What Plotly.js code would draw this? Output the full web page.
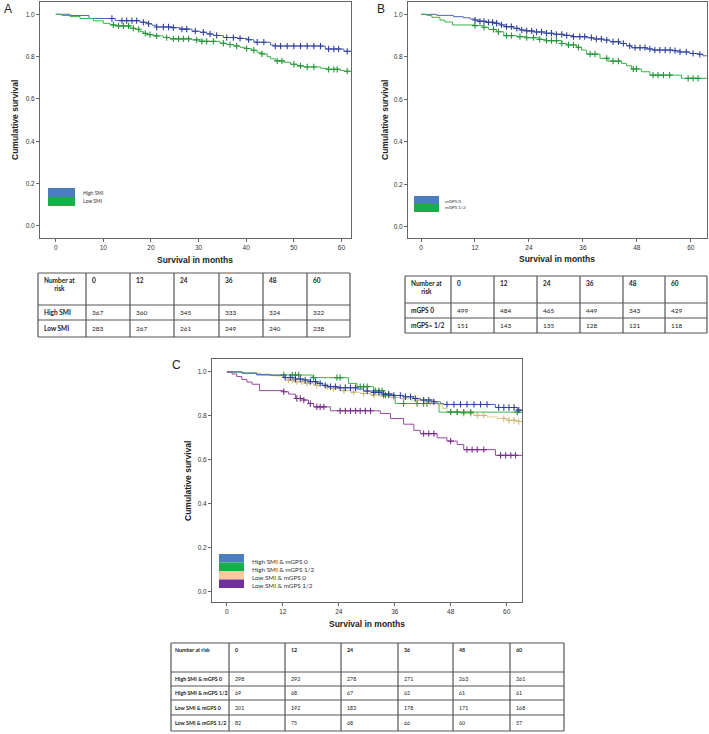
<!DOCTYPE html>
<html><head><meta charset="utf-8">
<script src="https://cdn.plot.ly/plotly-3.0.1.min.js"></script>
<style>html,body{margin:0;padding:0;background:#fff}#chart{width:709px;height:734px}</style>
</head><body><div id="chart"></div>
<script>
// ---------- DATA ----------
// Panel A: step times (months) and survival
const aHighT = [0,3,7,12.5,17.7,19.3,20.2,21.2,24.5,26.1,28.6,30.3,31.7,33.1,35.2,38.1,40.2,41.6,45.1,45.8,56.6,60.5];
const aHighS = [1.0,0.994,0.98,0.97,0.962,0.955,0.948,0.94,0.937,0.93,0.92,0.915,0.907,0.90,0.89,0.886,0.88,0.868,0.855,0.85,0.836,0.825];
const aHighCens = [11.8,13.9,14.9,16.0,17.0,18.4,19.5,21.2,22.6,23.7,24.7,26.5,27.5,29.3,31.0,32.4,33.8,35.9,37.3,38.7,40.5,42.3,43.7,46.1,47.2,48.6,50.0,51.4,52.8,54.2,55.6,57.3,58.4,59.4,61.2];
const aLowT = [0,1.3,3.0,5.1,7.9,10.0,11.4,12.5,15.6,16.7,17.7,18.4,19.1,20.5,22.6,24.0,28.6,30.7,34.5,35.9,37.3,38.7,39.8,41.1,42.3,43.3,44.4,45.1,46.1,47.9,49.3,50.7,52.1,55.6,57.0,59.8,60.5];
const aLowS = [1,0.994,0.989,0.98,0.969,0.957,0.95,0.945,0.934,0.929,0.918,0.91,0.904,0.898,0.89,0.884,0.879,0.872,0.863,0.857,0.85,0.844,0.838,0.83,0.82,0.813,0.80,0.79,0.78,0.773,0.764,0.756,0.751,0.745,0.74,0.734,0.731];
const aLowCens = [12.1,13.2,14.2,15.3,16.3,17.4,18.8,19.8,21.2,23.3,24.7,25.8,26.8,27.9,29.6,30.7,31.7,33.1,35.2,36.6,38.0,40.1,41.6,43.3,46.5,47.5,50.0,51.4,52.8,54.2,57.3,58.4,59.1,61.2];

// Panel B
const bG0T = [0,3.5,7.2,9.4,10.9,12.0,13.1,14.6,16.1,17.6,19.0,20.5,22.0,23.5,25.0,27.9,29.4,31.6,33.9,36.8,38.3,40.5,42.0,44.2,45.7,46.8,50.1,51.6,56.1,57.6,59.8,61.6,62.7];
const bG0S = [1,0.995,0.989,0.984,0.978,0.973,0.967,0.962,0.958,0.95,0.942,0.934,0.926,0.922,0.917,0.911,0.906,0.901,0.895,0.89,0.884,0.879,0.871,0.863,0.852,0.843,0.837,0.832,0.829,0.823,0.816,0.812,0.805];
const bG0Cens = [12.0,13.1,14.0,15.0,15.9,16.8,17.9,19.0,20.1,21.3,22.4,23.5,24.6,25.7,26.8,27.9,29.0,30.1,31.3,32.4,33.9,35.3,36.4,37.9,39.0,40.1,41.3,42.7,43.9,45.0,46.4,47.6,48.7,49.8,50.9,52.0,53.1,54.3,55.4,56.5,57.6,59.0,60.5,62.0];
const bG12T = [0,1.3,2.4,4.2,5.3,7.0,12.0,13.9,15.0,16.8,18.4,21.3,23.5,26.4,27.9,31.3,32.4,34.6,35.7,36.8,39.8,41.6,44.6,45.7,46.8,49.0,50.9,57.9];
const bG12S = [1,0.995,0.986,0.973,0.964,0.95,0.947,0.939,0.929,0.918,0.90,0.895,0.89,0.882,0.876,0.863,0.856,0.845,0.832,0.813,0.793,0.78,0.769,0.758,0.743,0.73,0.714,0.699];
const bG12Cens = [12.0,14.0,16.1,17.2,19.0,20.1,22.0,23.5,25.0,26.4,27.9,29.0,30.1,31.3,32.8,33.9,35.0,37.6,38.7,41.3,42.7,43.9,47.2,47.9,51.6,52.7,53.9,55.3,59.4,60.5,61.6];

// Panel C
const cHG0T = [0,3.2,6.4,9.3,12.2,14.7,16.5,17.9,19.3,20.4,21.5,23.6,27.9,29.3,31.5,33.6,35.8,37.9,40.1,41.5,44.4,45.8,46.5,57.6,62.3];
const cHG0S = [1,0.995,0.989,0.985,0.975,0.968,0.963,0.956,0.948,0.939,0.933,0.928,0.922,0.913,0.907,0.899,0.893,0.887,0.879,0.872,0.864,0.856,0.852,0.838,0.826];
const cHG0Cens = [12.5,13.6,14.7,15.75,16.8,17.9,19.0,20.0,21.1,22.2,23.3,24.3,25.4,26.5,27.6,30.1,31.5,32.6,33.6,34.7,35.8,37.2,38.3,39.4,40.4,42.2,43.3,44.4,47.2,48.7,50.1,51.5,53.0,54.4,55.8,58.3,59.4,60.5,61.6,62.6];
const cHG12T = [0,3.2,6.4,18.3,26.1,27.9,31.5,33.6,36.1,45.5];
const cHG12S = [1,0.994,0.986,0.974,0.948,0.933,0.915,0.895,0.856,0.817];
const cHG12Cens = [12.2,14.0,14.7,15.4,18.6,23.6,24.3,28.6,29.3,30.1,31.9,32.6,33.3,34.0,34.7,37.9,40.8,42.2,42.9,48.0,49.4,50.8,52.3,62.3];
const cLG0T = [0,3.6,7.2,10.0,12.2,12.9,14.3,16.5,18.6,20.8,22.2,24.3,26.5,28.6,30.8,32.9,35.1,37.2,39.4,42.2,45.1,46.2,47.2,50.1,53.0,55.8,58.0,60.1,62.3];
const cLG0S = [1,0.994,0.986,0.982,0.976,0.963,0.956,0.948,0.939,0.933,0.924,0.915,0.908,0.902,0.895,0.89,0.884,0.878,0.872,0.864,0.853,0.834,0.818,0.811,0.802,0.795,0.788,0.78,0.774];
const cLG0Cens = [13.2,14.0,15.0,16.1,17.2,19.3,21.5,22.9,25.1,27.2,29.3,31.5,33.6,35.8,37.9,40.8,43.7,48.0,49.4,50.8,52.3,53.7,55.1,59.4,60.5,61.6,62.6];
const cLG12T = [0,1.1,2.1,3.2,4.3,5.4,7.0,12.2,13.2,14.7,16.5,17.5,18.6,22.2,32.9,35.1,37.9,40.1,41.5,45.1,47.2,49.4,50.8,57.6];
const cLG12S = [1,0.991,0.979,0.966,0.954,0.944,0.915,0.91,0.899,0.879,0.872,0.856,0.841,0.823,0.811,0.788,0.762,0.734,0.719,0.70,0.685,0.669,0.646,0.62];
const cLG12Cens = [12.2,15.0,15.75,16.5,17.9,19.3,20.0,20.8,24.3,25.4,26.5,27.6,28.6,29.7,30.8,42.2,43.3,44.4,48.0,51.5,52.6,53.7,55.1,58.7,59.8,60.9,61.9];

// Tick labels
const yTicks = [0,0.2,0.4,0.6,0.8,1.0];
const yTickText = ['0.0','0.2','0.4','0.6','0.8','1.0'];
const xTicksA = [0,10,20,30,40,50,60];
const xTicks12 = [0,12,24,36,48,60];

// Number-at-risk tables
const riskTimes = ['0','12','24','36','48','60'];
const aRiskHigh = [367,360,345,333,324,322];
const aRiskLow = [283,267,261,249,240,238];
const bRiskG0 = [499,484,465,449,343,429];
const bRiskG12 = [151,143,135,128,121,118];
const cRiskHG0 = [298,292,278,271,263,261];
const cRiskHG12 = [69,68,67,62,61,61];
const cRiskLG0 = [201,192,183,178,171,168];
const cRiskLG12 = [82,75,68,66,60,57];

// ---------- BUILD ----------
const W=709,H=734;
const X = v=>v/W, Y = v=>1-v/H;
function stepAt(T,S,t){let v=S[0];for(let i=0;i<T.length;i++){if(T[i]<=t)v=S[i];else break;}return v;}
function km(T,S,C,end,xa,ya,lc,mc){
  return [
    {type:'scatter',mode:'lines',x:T.concat([end]),y:S.concat([S[S.length-1]]),xaxis:xa,yaxis:ya,
     line:{shape:'hv',color:lc,width:1},hoverinfo:'skip',showlegend:false},
    {type:'scatter',mode:'markers',x:C,y:C.map(t=>stepAt(T,S,t)),xaxis:xa,yaxis:ya,
     marker:{symbol:'cross-thin',size:4.5,color:mc,line:{width:1.1,color:mc}},hoverinfo:'skip',showlegend:false}
  ];
}
const BL='#5066b4',BM='#2f3f9f',GL='#3ab54b',GM='#25953a',TL='#dccb8e',TM='#cdb676',PL='#934c9c',PM='#7a2d8c';
let data=[];
data=data.concat(km(aHighT,aHighS,aHighCens,63,'x','y',BL,BM));
data=data.concat(km(aLowT,aLowS,aLowCens,63,'x','y',GL,GM));
data=data.concat(km(bG0T,bG0S,bG0Cens,64,'x2','y2',BL,BM));
data=data.concat(km(bG12T,bG12S,bG12Cens,64,'x2','y2',GL,GM));
data=data.concat(km(cLG0T,cLG0S,cLG0Cens,64,'x3','y3',TL,TM));
data=data.concat(km(cHG12T,cHG12S,cHG12Cens,64,'x3','y3',GL,GM));
data=data.concat(km(cLG12T,cLG12S,cLG12Cens,64,'x3','y3',PL,PM));
data=data.concat(km(cHG0T,cHG0S,cHG0Cens,64,'x3','y3',BL,BM));

const tf={family:'Liberation Sans, Arial, sans-serif',size:6.5,color:'#333'};
function xa(dom,range,ticks,anchor){return {domain:dom,range:range,tickvals:ticks,ticktext:ticks.map(String),showline:true,mirror:true,linecolor:'#666',linewidth:1,ticks:'outside',ticklen:3,tickcolor:'#666',tickfont:tf,showgrid:false,zeroline:false,anchor:anchor,fixedrange:true};}
function ya(dom,range,anchor){return {domain:dom,range:range,tickvals:yTicks,ticktext:yTickText,showline:true,mirror:true,linecolor:'#666',linewidth:1,ticks:'outside',ticklen:3,tickcolor:'#666',tickfont:tf,showgrid:false,zeroline:false,anchor:anchor,fixedrange:true};}

const shapes=[], ann=[];
const TF='Lato, Liberation Sans, sans-serif';
function text(x,y,t,opt){ann.push(Object.assign({xref:'paper',yref:'paper',x:X(x),y:Y(y),text:t,showarrow:false,xanchor:'left',yanchor:'middle',font:{family:TF,size:6,color:'#222'}},opt||{}));}
function rect(x0,y0,x1,y1,c){shapes.push({type:'rect',xref:'paper',yref:'paper',x0:X(x0),x1:X(x1),y0:Y(y0),y1:Y(y1),fillcolor:c,line:{width:0},layer:'above'});}
function line(x0,y0,x1,y1){shapes.push({type:'line',xref:'paper',yref:'paper',x0:X(x0),x1:X(x1),y0:Y(y0),y1:Y(y1),line:{color:'#555',width:1.2},layer:'above'});}

function table(cols,rows,header,body,fs,headerTop,pad0){
  cols.forEach(c=>line(c,rows[0],c,rows[rows.length-1]));
  rows.forEach(r=>line(cols[0],r,cols[cols.length-1],r));
  header.forEach((h,i)=>text(cols[i]+(i===0?pad0:4),rows[0]+headerTop,'<b>'+h+'</b>',{yanchor:'top',font:{family:TF,size:fs,color:'#222'}}));
  body.forEach((row,ri)=>{
    const yc=(rows[ri+1]+rows[ri+2])/2;
    row.forEach((v,ci)=>text(cols[ci]+(ci===0?pad0:4),yc,ci===0?'<b>'+v+'</b>':String(v),{font:{family:TF,size:fs,color:'#222'}}));
  });
}
table([38,86,130,174,219,263,307,350],[273,305,320,337],['Number at<br>risk'].concat(riskTimes),
  [['High SMI'].concat(aRiskHigh),['Low SMI'].concat(aRiskLow)],6.5,2,4);
table([405,451,494,537,580,623,665,707],[276,303,318,333],['Number at<br>risk'].concat(riskTimes),
  [['mGPS 0'].concat(bRiskG0),['mGPS= 1/2'].concat(bRiskG12)],6.5,2,4);
table([171,229,285,341,398,453,510,564],[643,672,686,700,715,731],['Number at risk'].concat(riskTimes),
  [['High SMI &amp; mGPS 0'].concat(cRiskHG0),['High SMI &amp; mGPS 1/2'].concat(cRiskHG12),['Low SMI &amp; mGPS 0'].concat(cRiskLG0),['Low SMI &amp; mGPS 1/2'].concat(cRiskLG12)],5.3,2,2);

// legends
rect(48,188,75,197,'#4a7ebf'); rect(48,197,75,206,'#17ae4b');
text(81,193,'High SMI',{font:{family:TF,size:5,color:'#333'}});
text(81,201,'Low SMI',{font:{family:TF,size:5,color:'#333'}});
rect(414,196,439,204,'#4a7ebf'); rect(414,204,439,212,'#17ae4b');
text(443,201,'mGPS 0',{font:{family:TF,size:4.5,color:'#333'}});
text(443,207,'mGPS 1/2',{font:{family:TF,size:4.5,color:'#333'}});
rect(219,554,244,562.5,'#4a7ebf'); rect(219,562.5,244,571,'#17ae4b'); rect(219,571,244,579.5,'#f8c79b'); rect(219,579.5,244,588,'#7030a0');
['High SMI &amp; mGPS 0','High SMI &amp; mGPS 1/2','Low SMI &amp; mGPS 0','Low SMI &amp; mGPS 1/2'].forEach((t,i)=>text(250,[561,569,577,585.5][i],t,{font:{family:TF,size:6.3,color:'#333'}}));

// axis titles
const AT={family:'Liberation Sans, Arial, sans-serif',size:8.5,color:'#222'};
text(15,120,'<b>Cumulative survival</b>',{xanchor:'center',textangle:-90,font:AT});
text(385,120,'<b>Cumulative survival</b>',{xanchor:'center',textangle:-90,font:AT});
text(188,481,'<b>Cumulative survival</b>',{xanchor:'center',textangle:-90,font:AT});
text(195,260,'<b>Survival in months</b>',{xanchor:'center',font:AT});
text(557,259,'<b>Survival in months</b>',{xanchor:'center',font:AT});
text(367,624,'<b>Survival in months</b>',{xanchor:'center',font:AT});
// panel letters
const PF={family:'Liberation Sans, Arial, sans-serif',size:12,color:'#222'};
text(2,9,'A',{font:PF}); text(375,9,'B',{font:PF}); text(170,365,'C',{font:PF});

const layout={width:W,height:H,margin:{l:0,r:0,t:0,b:0},paper_bgcolor:'#fff',plot_bgcolor:'#fff',showlegend:false,
  xaxis:xa([X(40),X(351)],[-3.3,62.0],xTicksA,'y'),
  yaxis:ya([Y(238),Y(2)],[-0.057,1.058],'x'),
  xaxis2:xa([X(408),X(707)],[-2.9,63.6],xTicks12,'y2'),
  yaxis2:ya([Y(238),Y(2)],[-0.052,1.058],'x2'),
  xaxis3:xa([X(212),X(522)],[-3.2,63.3],xTicks12,'y3'),
  yaxis3:ya([Y(602),Y(359)],[-0.048,1.059],'x3'),
  shapes:shapes,annotations:ann};
Plotly.newPlot('chart',data,layout,{displayModeBar:false,staticPlot:true});
</script></body></html>
